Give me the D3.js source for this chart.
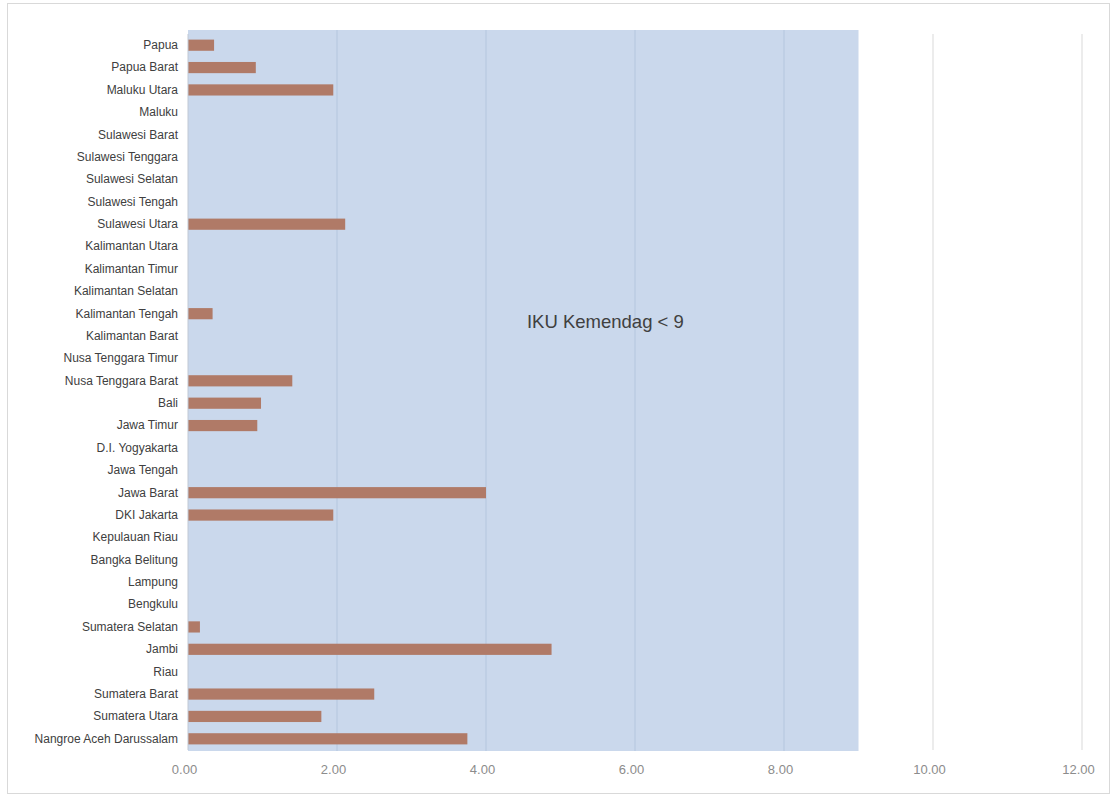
<!DOCTYPE html>
<html>
<head>
<meta charset="utf-8">
<script src="https://cdn.jsdelivr.net/npm/d3@7"></script>
<style>
  html, body { margin: 0; padding: 0; background: #ffffff; }
  svg { display: block; }
</style>
</head>
<body>
<svg id="chart" width="1115" height="800"></svg>
<script>
// Provinces, listed from the bottom row of the chart to the top
const provinces = [
  "Nangroe Aceh Darussalam", "Sumatera Utara", "Sumatera Barat", "Riau", "Jambi",
  "Sumatera Selatan", "Bengkulu", "Lampung", "Bangka Belitung", "Kepulauan Riau",
  "DKI Jakarta", "Jawa Barat", "Jawa Tengah", "D.I. Yogyakarta", "Jawa Timur",
  "Bali", "Nusa Tenggara Barat", "Nusa Tenggara Timur", "Kalimantan Barat", "Kalimantan Tengah",
  "Kalimantan Selatan", "Kalimantan Timur", "Kalimantan Utara", "Sulawesi Utara", "Sulawesi Tengah",
  "Sulawesi Selatan", "Sulawesi Tenggara", "Sulawesi Barat", "Maluku", "Maluku Utara",
  "Papua Barat", "Papua"
];

// One value per province (same order); 0 where no bar is drawn
const values = [
  3.75, 1.79, 2.50, 0, 4.88,
  0.16, 0, 0, 0, 0,
  1.95, 4.00, 0, 0, 0.93,
  0.98, 1.40, 0, 0, 0.33,
  0, 0, 0, 2.11, 0,
  0, 0, 0, 0, 1.95,
  0.91, 0.35
];

// Target band drawn behind the bars
const targetValue = 9;
const targetLabel = "IKU Kemendag < 9";

// Value axis ticks
const xTicks = [0, 2, 4, 6, 8, 10, 12];

const svg = d3.select("#chart");
const font = "'Liberation Sans Narrow', 'Liberation Sans', Arial, sans-serif";

// Outer chart frame
svg.append("rect")
  .attr("x", 7.5).attr("y", 3.5)
  .attr("width", 1102).attr("height", 790)
  .attr("fill", "#ffffff")
  .attr("stroke", "#d9d9d9");

const plot = { left: 188, right: 1082, top: 34, bottom: 750 };

const x = d3.scaleLinear().domain([0, 12]).range([plot.left, plot.right]);
const y = d3.scaleBand()
  .domain(provinces.slice().reverse())
  .range([plot.top, plot.bottom])
  .paddingInner(0.5)
  .paddingOuter(0.25);

// Gridlines over the full plot
svg.append("g")
  .selectAll("line")
  .data(xTicks.filter(t => t > 0))
  .join("line")
  .attr("x1", d => x(d)).attr("x2", d => x(d))
  .attr("y1", plot.top).attr("y2", plot.bottom)
  .attr("stroke", "#d9d9d9")
  .attr("stroke-width", 1);

// Target band
svg.append("rect")
  .attr("x", x(0))
  .attr("y", plot.top - 4)
  .attr("width", x(targetValue) - x(0))
  .attr("height", plot.bottom - plot.top + 5)
  .attr("fill", "#cad8ec");

// Gridlines seen through the band
svg.append("g")
  .selectAll("line")
  .data(xTicks.filter(t => t > 0 && t < targetValue))
  .join("line")
  .attr("x1", d => x(d)).attr("x2", d => x(d))
  .attr("y1", plot.top - 4).attr("y2", plot.bottom + 1)
  .attr("stroke", "#bfcfe5")
  .attr("stroke-width", 2);

// Bars
svg.append("g")
  .selectAll("rect")
  .data(provinces.map((p, i) => ({ p, v: values[i] })).filter(d => d.v > 0))
  .join("rect")
  .attr("x", x(0))
  .attr("y", d => y(d.p))
  .attr("width", d => x(d.v) - x(0))
  .attr("height", y.bandwidth())
  .attr("fill", "#b07a67");

// Category axis line
svg.append("line")
  .attr("x1", x(0)).attr("x2", x(0))
  .attr("y1", plot.top).attr("y2", plot.bottom)
  .attr("stroke", "#c0c8d4")
  .attr("stroke-width", 1);

// Category labels
const yAxis = d3.axisLeft(y).tickSize(0).tickPadding(10);
const gy = svg.append("g")
  .attr("transform", `translate(${x(0)},0)`)
  .call(yAxis);
gy.select(".domain").remove();
gy.selectAll("text")
  .attr("fill", "#404040")
  .style("font-family", font)
  .style("font-size", "12px");

// Value axis labels
const xAxis = d3.axisBottom(x).tickValues(xTicks).tickFormat(d3.format(".2f")).tickSize(0).tickPadding(15);
const gx = svg.append("g")
  .attr("transform", `translate(0,${plot.bottom})`)
  .call(xAxis);
gx.select(".domain").remove();
gx.selectAll("text")
  .attr("fill", "#8c8c8c")
  .attr("dx", "-4")
  .style("font-family", font)
  .style("font-size", "13px");

// Target label
svg.append("text")
  .attr("x", x(4.55))
  .attr("y", y("Kalimantan Tengah") + y.step() * 0.9)
  .attr("fill", "#404040")
  .style("font-family", font)
  .style("font-size", "18.5px")
  .text(targetLabel);
</script>
</body>
</html>
